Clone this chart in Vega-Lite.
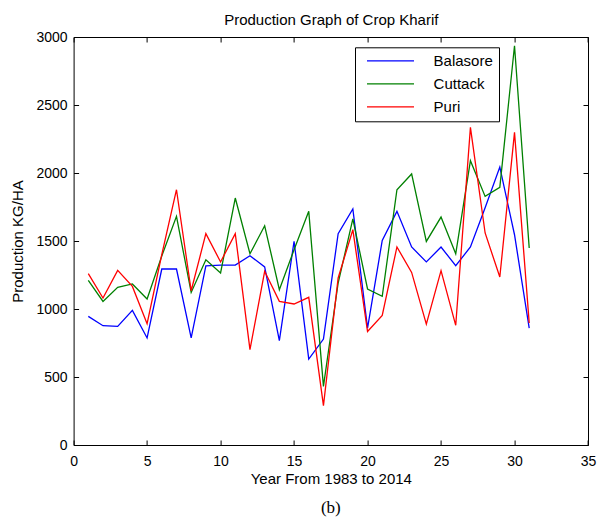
{
  "$schema": "https://vega.github.io/schema/vega-lite/v6.json",
  "width": 514.4,
  "height": 408,
  "autosize": {"type": "none"},
  "padding": {"left": 73.6, "top": 37, "right": 9, "bottom": 81},
  "background": "white",
  "config": {
    "view": {"stroke": "black", "strokeWidth": 1},
    "font": "Liberation Sans",
    "axis": {
      "grid": false,
      "domain": false,
      "tickColor": "black",
      "tickSize": 5,
      "tickWidth": 1,
      "offset": -5,
      "labelColor": "black",
      "titleColor": "black",
      "labelFont": "Liberation Sans",
      "titleFont": "Liberation Sans",
      "labelFontSize": 14,
      "titleFontSize": 15,
      "titleFontWeight": "normal",
      "format": "d"
    }
  },
  "title": {
    "text": "(b)",
    "orient": "bottom",
    "font": "Liberation Serif",
    "fontSize": 17,
    "fontWeight": "normal",
    "color": "black",
    "offset": 14
  },
  "data": {
    "values": [
      {"year": 1, "district": "Balasore", "production": 946},
      {"year": 2, "district": "Balasore", "production": 877},
      {"year": 3, "district": "Balasore", "production": 872},
      {"year": 4, "district": "Balasore", "production": 990},
      {"year": 5, "district": "Balasore", "production": 787},
      {"year": 6, "district": "Balasore", "production": 1294},
      {"year": 7, "district": "Balasore", "production": 1294},
      {"year": 8, "district": "Balasore", "production": 787},
      {"year": 9, "district": "Balasore", "production": 1318},
      {"year": 10, "district": "Balasore", "production": 1323},
      {"year": 11, "district": "Balasore", "production": 1323},
      {"year": 12, "district": "Balasore", "production": 1392},
      {"year": 13, "district": "Balasore", "production": 1309},
      {"year": 14, "district": "Balasore", "production": 767},
      {"year": 15, "district": "Balasore", "production": 1497},
      {"year": 16, "district": "Balasore", "production": 632},
      {"year": 17, "district": "Balasore", "production": 779},
      {"year": 18, "district": "Balasore", "production": 1554},
      {"year": 19, "district": "Balasore", "production": 1735},
      {"year": 20, "district": "Balasore", "production": 860},
      {"year": 21, "district": "Balasore", "production": 1504},
      {"year": 22, "district": "Balasore", "production": 1718},
      {"year": 23, "district": "Balasore", "production": 1456},
      {"year": 24, "district": "Balasore", "production": 1346},
      {"year": 25, "district": "Balasore", "production": 1456},
      {"year": 26, "district": "Balasore", "production": 1318},
      {"year": 27, "district": "Balasore", "production": 1456},
      {"year": 28, "district": "Balasore", "production": 1745},
      {"year": 29, "district": "Balasore", "production": 2044},
      {"year": 30, "district": "Balasore", "production": 1546},
      {"year": 31, "district": "Balasore", "production": 860},
      {"year": 1, "district": "Cuttack", "production": 1210},
      {"year": 2, "district": "Cuttack", "production": 1056},
      {"year": 3, "district": "Cuttack", "production": 1159},
      {"year": 4, "district": "Cuttack", "production": 1184},
      {"year": 5, "district": "Cuttack", "production": 1073},
      {"year": 6, "district": "Cuttack", "production": 1390},
      {"year": 7, "district": "Cuttack", "production": 1681},
      {"year": 8, "district": "Cuttack", "production": 1122},
      {"year": 9, "district": "Cuttack", "production": 1362},
      {"year": 10, "district": "Cuttack", "production": 1265},
      {"year": 11, "district": "Cuttack", "production": 1816},
      {"year": 12, "district": "Cuttack", "production": 1406},
      {"year": 13, "district": "Cuttack", "production": 1612},
      {"year": 14, "district": "Cuttack", "production": 1142},
      {"year": 15, "district": "Cuttack", "production": 1436},
      {"year": 16, "district": "Cuttack", "production": 1718},
      {"year": 17, "district": "Cuttack", "production": 431},
      {"year": 18, "district": "Cuttack", "production": 1191},
      {"year": 19, "district": "Cuttack", "production": 1662},
      {"year": 20, "district": "Cuttack", "production": 1147},
      {"year": 21, "district": "Cuttack", "production": 1093},
      {"year": 22, "district": "Cuttack", "production": 1877},
      {"year": 23, "district": "Cuttack", "production": 1993},
      {"year": 24, "district": "Cuttack", "production": 1497},
      {"year": 25, "district": "Cuttack", "production": 1676},
      {"year": 26, "district": "Cuttack", "production": 1406},
      {"year": 27, "district": "Cuttack", "production": 2090},
      {"year": 28, "district": "Cuttack", "production": 1828},
      {"year": 29, "district": "Cuttack", "production": 1894},
      {"year": 30, "district": "Cuttack", "production": 2936},
      {"year": 31, "district": "Cuttack", "production": 1448},
      {"year": 1, "district": "Puri", "production": 1260},
      {"year": 2, "district": "Puri", "production": 1081},
      {"year": 3, "district": "Puri", "production": 1284},
      {"year": 4, "district": "Puri", "production": 1166},
      {"year": 5, "district": "Puri", "production": 892},
      {"year": 6, "district": "Puri", "production": 1400},
      {"year": 7, "district": "Puri", "production": 1877},
      {"year": 8, "district": "Puri", "production": 1134},
      {"year": 9, "district": "Puri", "production": 1554},
      {"year": 10, "district": "Puri", "production": 1346},
      {"year": 11, "district": "Puri", "production": 1554},
      {"year": 12, "district": "Puri", "production": 701},
      {"year": 13, "district": "Puri", "production": 1277},
      {"year": 14, "district": "Puri", "production": 1056},
      {"year": 15, "district": "Puri", "production": 1037},
      {"year": 16, "district": "Puri", "production": 1086},
      {"year": 17, "district": "Puri", "production": 289},
      {"year": 18, "district": "Puri", "production": 1228},
      {"year": 19, "district": "Puri", "production": 1583},
      {"year": 20, "district": "Puri", "production": 835},
      {"year": 21, "district": "Puri", "production": 953},
      {"year": 22, "district": "Puri", "production": 1456},
      {"year": 23, "district": "Puri", "production": 1269},
      {"year": 24, "district": "Puri", "production": 889},
      {"year": 25, "district": "Puri", "production": 1282},
      {"year": 26, "district": "Puri", "production": 880},
      {"year": 27, "district": "Puri", "production": 2336},
      {"year": 28, "district": "Puri", "production": 1559},
      {"year": 29, "district": "Puri", "production": 1235},
      {"year": 30, "district": "Puri", "production": 2299},
      {"year": 31, "district": "Puri", "production": 897}
    ]
  },
  "layer": [
    {
      "mark": {"type": "line", "strokeWidth": 1.3},
      "encoding": {
        "x": {
          "field": "year",
          "type": "quantitative",
          "scale": {"domain": [0, 35], "nice": false, "zero": false},
          "axis": {
            "orient": "bottom",
            "title": "Year From 1983 to 2014",
            "values": [0, 5, 10, 15, 20, 25, 30, 35],
            "labelPadding": 9,
            "titlePadding": 3,
            "labelFlush": false
          }
        },
        "y": {
          "field": "production",
          "type": "quantitative",
          "scale": {"domain": [0, 3000], "nice": false},
          "axis": {
            "orient": "left",
            "title": "Production KG/HA",
            "values": [0, 500, 1000, 1500, 2000, 2500, 3000],
            "labelPadding": 6.5,
            "titlePadding": 10,
            "labelFlush": false
          }
        },
        "color": {
          "field": "district",
          "type": "nominal",
          "scale": {"domain": ["Balasore", "Cuttack", "Puri"], "range": ["#0000ff", "#008000", "#ff0000"]},
          "legend": {
            "title": null,
            "orient": "none",
            "legendX": 281.4,
            "legendY": 10.3,
            "symbolType": "M-4,0H4",
            "symbolSize": 138,
            "symbolOffset": 22,
            "symbolStrokeWidth": 1.3,
            "labelFontSize": 15,
            "labelFont": "Liberation Sans",
            "labelColor": "black",
            "labelOffset": 35.6,
            "labelExpr": "datum.label + '    '",
            "strokeColor": "black",
            "fillColor": "white",
            "padding": 6,
            "rowPadding": 7
          }
        }
      }
    },
    {
      "mark": {"type": "line", "opacity": 0},
      "encoding": {
        "x": {
          "field": "year",
          "type": "quantitative",
          "axis": {
            "orient": "top",
            "title": "Production Graph of Crop Kharif",
            "values": [0, 5, 10, 15, 20, 25, 30, 35],
            "labels": false,
            "titlePadding": 9
          }
        },
        "y": {
          "field": "production",
          "type": "quantitative",
          "axis": {
            "orient": "right",
            "title": null,
            "values": [0, 500, 1000, 1500, 2000, 2500, 3000],
            "labels": false
          }
        },
        "detail": {"field": "district", "type": "nominal"}
      }
    }
  ],
  "resolve": {"axis": {"x": "independent", "y": "independent"}}
}
